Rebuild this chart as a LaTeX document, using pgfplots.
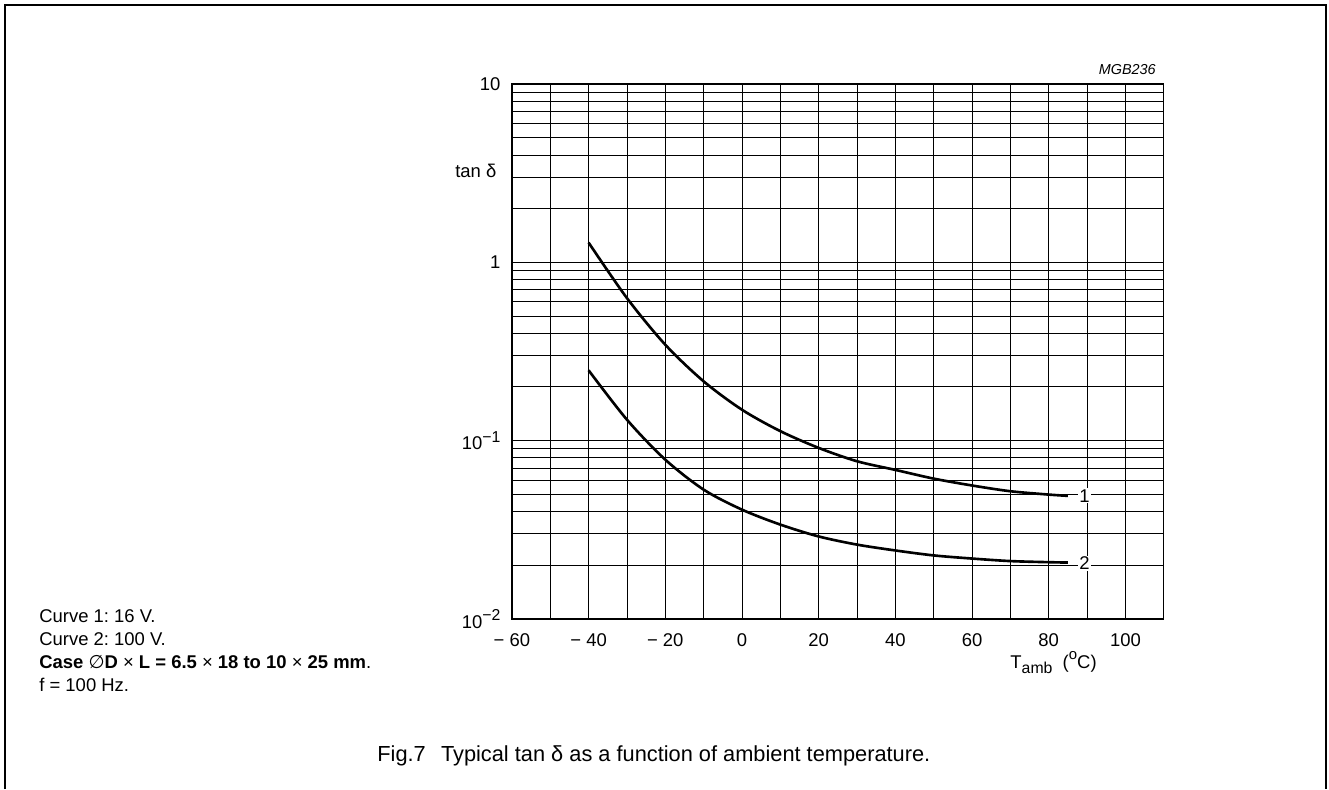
\documentclass[border=0pt]{standalone}
\usepackage{fontspec}
\setmainfont{Liberation Sans}
\newfontfamily\symfont{DejaVu Sans}
\usepackage{pgfplots}
\pgfplotsset{compat=1.18}
\frenchspacing

% tan delta readings, curve 1 (16 V) and curve 2 (100 V)
\pgfplotstableread{
T     tand
-40   1.29
-30   0.63
-20   0.345
-10   0.215
0     0.149
10    0.113
20    0.091
30    0.0766
40    0.0685
50    0.0612
60    0.056
70    0.052
80    0.0498
85    0.049
}\curveone
\pgfplotstableread{
T     tand
-40   0.248
-30   0.131
-20   0.0782
-10   0.0531
0     0.041
10    0.0338
20    0.029
30    0.0261
40    0.0242
50    0.0227
60    0.0218
70    0.0211
80    0.0208
85    0.0207
}\curvetwo

\newcommand\expo[1]{\raisebox{0.42em}{\fontsize{9}{10}\selectfont #1}}

\begin{document}
\begin{tikzpicture}[x=0.02cm,y=-0.02cm]
\path[use as bounding box] (0,0) rectangle (1329,789);
\draw[line width=1pt] (5,789) -- (5,5) -- (1326,5) -- (1326,789);

\begin{axis}[
    at={(10.24cm,-12.38cm)}, anchor=south west,
    width=13.04cm, height=10.7cm, scale only axis,
    xmin=-60, xmax=110,
    ymode=log, ymin=0.01, ymax=10,
    xtick={-60,-40,-20,0,20,40,60,80,100},
    xticklabels={− 60,− 40,− 20,0,20,40,60,80,100},
    minor xtick={-50,-30,-10,10,30,50,70,90,110},
    ytick={0.01,0.1,1,10},
    yticklabels={10\expo{−2},10\expo{−1},1,10},
    minor ytick={0.02,0.03,0.04,0.05,0.06,0.07,0.08,0.09,
                 0.2,0.3,0.4,0.5,0.6,0.7,0.8,0.9,
                 2,3,4,5,6,7,8,9},
    grid=both,
    major grid style={black, line width=0.5pt},
    minor grid style={black, line width=0.5pt},
    major tick length=0pt, minor tick length=0pt,
    axis line style={line width=0.7pt},
    every tick label/.append style={font=\fontsize{10.5}{12}\selectfont},
    xticklabel style={yshift=-5pt},
    yticklabel style={xshift=-3pt},
]
\addplot[black, line width=1.5pt, smooth] table[x=T, y=tand] {\curveone};
\addplot[black, line width=1.5pt, smooth] table[x=T, y=tand] {\curvetwo};
\node[fill=white, inner sep=0.6pt, font=\fontsize{10.5}{12}\selectfont] at (axis cs:89.3,0.049) {1};
\node[fill=white, inner sep=0.6pt, font=\fontsize{10.5}{12}\selectfont] at (axis cs:89.3,0.0205) {2};
\end{axis}

\begin{scope}[every node/.style={inner sep=0pt, font=\fontsize{10.5}{12}\selectfont}]
\node[anchor=base west] at (455,177) {tan δ};
\node[anchor=base east] at (1097,668) {T\raisebox{-0.28em}{\fontsize{9}{10}\selectfont amb}\ \ (\raisebox{0.45em}{\fontsize{8.5}{9}\selectfont o}C)};
\node[anchor=base east, font=\fontsize{8.2}{10}\selectfont\itshape] at (1156,74) {MGB236};
\node[anchor=base west] at (39,622) {Curve 1: 16 V.};
\node[anchor=base west] at (39,645) {Curve 2: 100 V.};
\node[anchor=base west] at (39,668) {\textbf{Case {\symfont\mdseries ∅}D \textmd{×} L = 6.5 \textmd{×} 18 to 10 \textmd{×} 25 mm}.};
\node[anchor=base west] at (39,691) {f = 100 Hz.};
\node[anchor=base west, font=\fontsize{12.4}{14}\selectfont] at (377,761) {Fig.7\hspace{0.7em}Typical tan δ as a function of ambient temperature.};
\end{scope}
\end{tikzpicture}
\end{document}
